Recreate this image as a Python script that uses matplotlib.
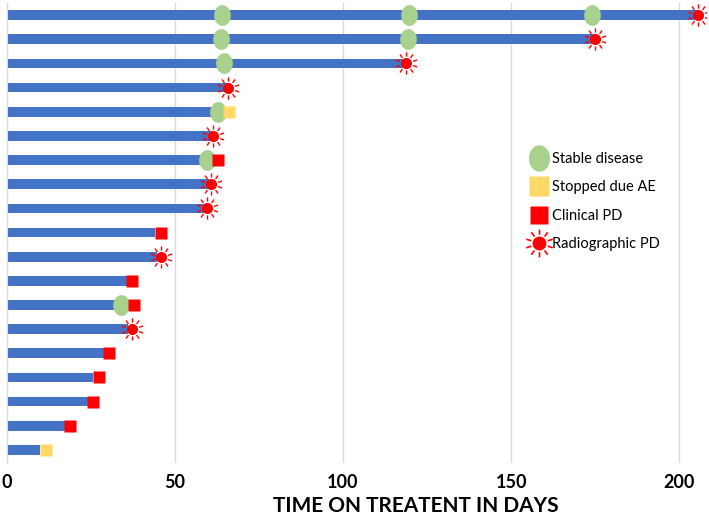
import numpy as np
import matplotlib.pyplot as plt
from matplotlib.path import Path
from matplotlib.lines import Line2D

plt.rcParams['font.family'] = ['Lato', 'DejaVu Sans']

# patients listed top to bottom, days on treatment
days = [206, 175, 118.5, 65.5, 62.5, 61.5, 58.5, 60, 59.5, 44, 44.6,
        37.8, 36, 36, 30.7, 25.6, 24.1, 17.3, 9.8]

# events: (patient index from top, day)
stable = [(0, 64), (0, 119.5), (0, 174), (1, 63.7), (1, 119.3), (2, 64.6),
          (4, 62.8), (6, 59.5), (12, 34)]
stopped_ae = [(4, 66), (18, 11.6)]
clinical = [(6, 62.8), (9, 45.7), (11, 37.2), (12, 37.8), (14, 30.4),
            (15, 27.4), (16, 25.6), (17, 18.8)]
radiographic = [(0, 205.6), (1, 175), (2, 118.7), (3, 65.8), (5, 61.3),
                (7, 60.7), (8, 59.5), (10, 45.7), (13, 37.2)]

xticks = [0, 50, 100, 150, 200]

n = len(days)
ypos = [n - 1 - i for i in range(n)]

# custom marker shapes
t = np.linspace(0, 2 * np.pi, 60)
ellipse = Path(np.column_stack([0.8 * np.cos(t), np.sin(t)]))
verts, codes = [], []
for a in np.linspace(0, 2 * np.pi, 10, endpoint=False):
    verts += [(0.62 * np.sin(a), 0.62 * np.cos(a)), (np.sin(a), np.cos(a))]
    codes += [Path.MOVETO, Path.LINETO]
rays = Path(verts, codes)

fig = plt.figure(figsize=(7.09, 5.16), dpi=100)
ax = fig.add_axes([7 / 709, 53 / 516, 699 / 709, 460 / 516])

ax.barh(ypos, days, height=0.4, color='#4472C4', zorder=2)


def ev(lst):
    xs = [d for i, d in lst]
    ys = [n - 1 - i for i, d in lst]
    return xs, ys


x, y = ev(stable)
ax.plot(x, y, ls='none', marker=ellipse, ms=15, color='#A9D18E', mec='none', zorder=3)
x, y = ev(stopped_ae)
ax.plot(x, y, ls='none', marker='s', ms=9, color='#FFD966', mec='none', zorder=3)
x, y = ev(clinical)
ax.plot(x, y, ls='none', marker='s', ms=8.5, color='#FF0000', mec='none', zorder=4)
x, y = ev(radiographic)
ax.plot(x, y, ls='none', marker=rays, ms=16, mfc='none', mec='#FF0000', mew=1.0, zorder=4)
ax.plot(x, y, ls='none', marker='o', ms=8, color='#FF0000', mec='none', zorder=4)

ax.set_xlim(0, 208)
ax.set_ylim(-0.54, n - 1 + 0.5)
ax.set_xticks(xticks)
ax.set_xticklabels([str(v) for v in xticks], fontsize=13, fontweight='bold')
ax.set_yticks([])
ax.tick_params(axis='x', length=0, pad=8)
ax.grid(axis='x', color='#D9D9D9', lw=1, zorder=0)
for s in ['top', 'right', 'bottom']:
    ax.spines[s].set_visible(False)
ax.spines['left'].set_color('#D9D9D9')
ax.set_xlabel('TIME ON TREATENT IN DAYS', fontsize=15, fontweight='bold')
ax.xaxis.set_label_coords(0.585, -0.072)

handles = [
    Line2D([], [], ls='none', marker=ellipse, ms=19, color='#A9D18E', mec='none'),
    Line2D([], [], ls='none', marker='s', ms=15, color='#FFD966', mec='none'),
    Line2D([], [], ls='none', marker='s', ms=13, color='#FF0000', mec='none'),
    (Line2D([], [], ls='none', marker=rays, ms=20, mfc='none', mec='#FF0000', mew=1.2),
     Line2D([], [], ls='none', marker='o', ms=10, color='#FF0000', mec='none')),
]
labels = ['Stable disease', 'Stopped due AE', 'Clinical PD', 'Radiographic PD']
ax.legend(handles, labels, loc='upper left', bbox_to_anchor=(517 / 709, 1 - 139 / 516),
          bbox_transform=fig.transFigure, frameon=False, fontsize=10.5,
          handlelength=1.2, handletextpad=0.3, labelspacing=0.98)

fig.savefig('out.png', dpi=100)
